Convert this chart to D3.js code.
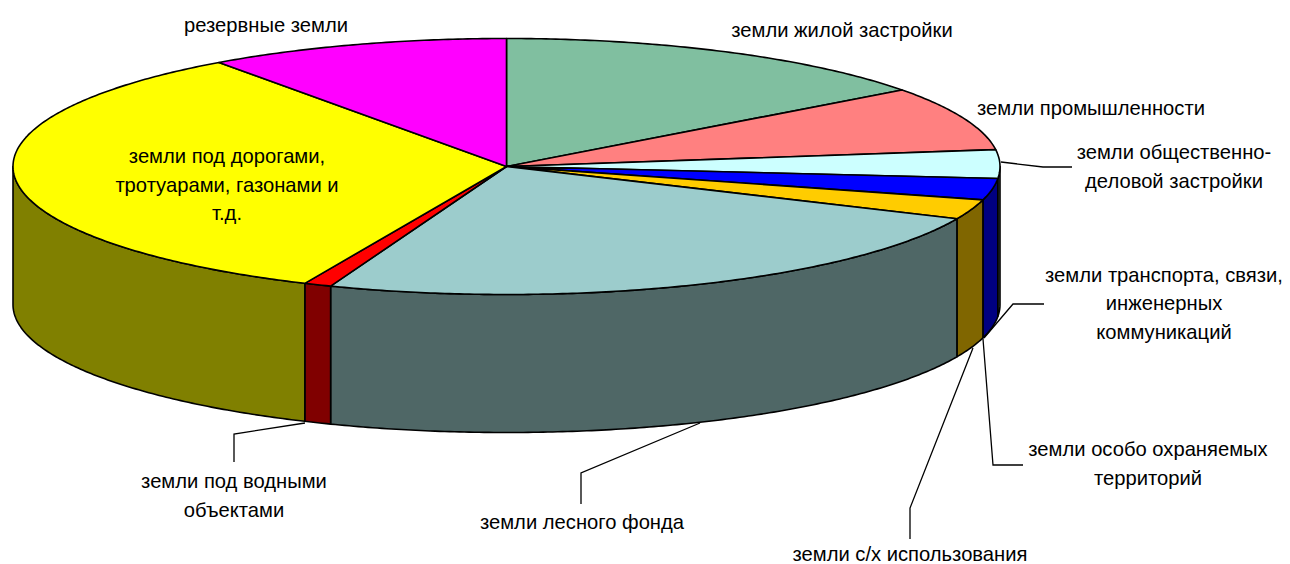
<!DOCTYPE html>
<html>
<head>
<meta charset="utf-8">
<script src="https://cdn.jsdelivr.net/npm/d3@7"></script>
<style>
  html, body { margin: 0; background: #fff; }
  svg { display: block; }
  text { font-family: "Liberation Sans", Arial, sans-serif; font-size: 20.2px; fill: #000; }
</style>
</head>
<body>
<div id="chart"></div>
<script>
// shares of land (percent)
const categories = [
  'земли жилой застройки', 'земли промышленности', 'земли общественно-деловой застройки',
  'земли транспорта, связи, инженерных коммуникаций', 'земли особо охраняемых территорий',
  'земли лесного фонда', 'земли под водными объектами',
  'земли под дорогами, тротуарами, газонами и т.д.', 'резервные земли'
];
const shares = [14.8, 8.1, 3.6, 2.7, 2.5, 24.1, 0.9, 33.4, 9.9];
const topColors = ['#80bfa0', '#ff8080', '#ccffff', '#0000ff', '#ffcc00', '#9ccccc', '#ff0000', '#ffff00', '#ff00ff'];
const sideColors = ['#406050', '#804040', '#668080', '#000080', '#806600', '#4f6766', '#800000', '#808000', '#800080'];

// label text, split in lines, with where it sits
const labels = [
  { lines: ['земли жилой застройки'], x: 842, y: 37 },
  { lines: ['земли промышленности'], x: 1091, y: 115 },
  { lines: ['земли общественно-', 'деловой застройки'], x: 1174, y: 159 },
  { lines: ['земли транспорта, связи,', 'инженерных', 'коммуникаций'], x: 1164, y: 281.5 },
  { lines: ['земли особо охраняемых', 'территорий'], x: 1148, y: 456 },
  { lines: ['земли с/х использования'], x: 910, y: 561 },
  { lines: ['земли лесного фонда'], x: 582, y: 529 },
  { lines: ['земли под водными', 'объектами'], x: 234, y: 488 },
  { lines: ['земли под дорогами,', 'тротуарами, газонами и', 'т.д.'], x: 227, y: 163 },
  { lines: ['резервные земли'], x: 266, y: 32 }
];
const leaders = [
  [[1001, 162], [1043, 167], [1072, 167]],
  [[984, 338], [1013, 304], [1044, 304]],
  [[983, 339], [993, 465], [1023, 465]],
  [[973, 348], [910, 508], [910, 539]],
  [[700, 423], [581, 473], [581, 504]],
  [[305, 423], [234, 434], [234, 462]]
];

const width = 1290, height = 564;
const cx = 506.5, cy = 166.5, rx = 493.5, ry = 128, depth = 138;

const svg = d3.select('#chart').append('svg')
  .attr('width', width)
  .attr('height', height);

const slices = d3.pie().sort(null).value(d => d)(shares);

// the disc is tilted: a unit circle scaled on both axes
const xScale = d3.scaleLinear().domain([-1, 1]).range([cx - rx, cx + rx]);
const yScale = d3.scaleLinear().domain([-1, 1]).range([cy - ry, cy + ry]);
const px = a => xScale(Math.sin(a));
const py = a => yScale(-Math.cos(a));
const line = d3.line();

function arcAngles(a0, a1) {
  const n = Math.max(2, Math.ceil((a1 - a0) / 0.01));
  return d3.range(n + 1).map(i => a0 + (a1 - a0) * i / n);
}

// side walls, only the part of each slice facing the viewer
const sides = slices.map((s, i) => {
  const a0 = Math.max(s.startAngle, Math.PI / 2);
  const a1 = Math.min(s.endAngle, Math.PI * 1.5);
  return { a0, a1, i };
}).filter(d => d.a1 > d.a0);

svg.append('g').selectAll('path')
  .data(sides)
  .enter()
  .append('path')
  .attr('d', d => {
    const as = arcAngles(d.a0, d.a1);
    const up = as.map(a => [px(a), py(a)]);
    const down = as.slice().reverse().map(a => [px(a), py(a) + depth]);
    return line(up.concat(down)) + 'Z';
  })
  .attr('fill', d => sideColors[d.i])
  .attr('stroke', '#000')
  .attr('stroke-width', 1.6)
  .attr('stroke-linejoin', 'round');

svg.append('g').selectAll('path')
  .data(slices)
  .enter()
  .append('path')
  .attr('d', s => {
    const pts = arcAngles(s.startAngle, s.endAngle).map(a => [px(a), py(a)]);
    return line([[cx, cy]].concat(pts)) + 'Z';
  })
  .attr('fill', (s, i) => topColors[i])
  .attr('stroke', '#000')
  .attr('stroke-width', 1.6)
  .attr('stroke-linejoin', 'round');

svg.append('g').selectAll('path')
  .data(leaders)
  .enter()
  .append('path')
  .attr('d', d => line(d))
  .attr('fill', 'none')
  .attr('stroke', '#000')
  .attr('stroke-width', 1.3);

const lineStep = 28.5;
const labelG = svg.append('g').selectAll('text')
  .data(labels)
  .enter()
  .append('text')
  .attr('text-anchor', 'middle');

labelG.selectAll('tspan')
  .data(d => d.lines.map((t, i) => ({ t, x: d.x, y: d.y + i * lineStep })))
  .enter()
  .append('tspan')
  .attr('x', d => d.x)
  .attr('y', d => d.y)
  .text(d => d.t);
</script>
</body>
</html>
